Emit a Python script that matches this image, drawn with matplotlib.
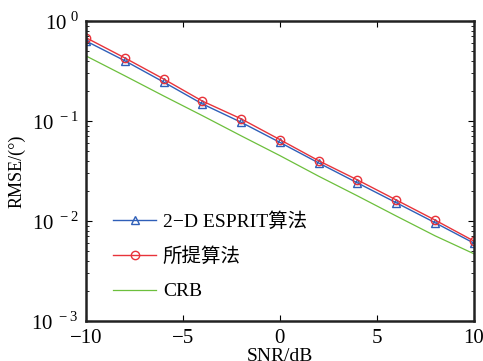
import matplotlib
matplotlib.use("Agg")
import matplotlib.pyplot as plt
import numpy as np

plt.rcParams['font.family'] = ['Liberation Serif', 'Noto Sans CJK SC']
plt.rcParams['mathtext.fontset'] = 'custom'
plt.rcParams['mathtext.rm'] = 'Liberation Serif'

snr = [-10, -8, -6, -4, -2, 0, 2, 4, 6, 8, 10]
esprit = [0.63, 0.40, 0.245, 0.148, 0.097, 0.061, 0.038, 0.024, 0.0152, 0.0096, 0.0060]
proposed = [0.68, 0.427, 0.263, 0.158, 0.105, 0.065, 0.040, 0.0257, 0.0162, 0.0102, 0.0063]
crb = [0.447, 0.283, 0.178, 0.113, 0.071, 0.045, 0.028, 0.0178, 0.0112, 0.0071, 0.0047]

fig = plt.figure(figsize=(4.83, 3.61), dpi=100)
ax = fig.add_axes([0.178, 0.111, 0.803, 0.831])
ax.semilogy(snr, esprit, color='#2f5fb8', lw=1, marker='^', ms=6, mfc='none', mew=1, label='2−D ESPRIT算法')
ax.semilogy(snr, proposed, color='#e8333a', lw=1, marker='o', ms=6, mfc='none', mew=1, label='所提算法')
ax.semilogy(snr, crb, color='#6cbf3c', lw=0.9, label='CRB')
ax.set_xlim(-10, 10)
ax.set_ylim(1e-3, 1)
ax.set_xticks([-10, -5, 0, 5, 10])
ax.set_xticklabels(['−10', '−5', '0', '5', '10'])
ax.set_yticks([1e-3, 1e-2, 1e-1, 1])
ax.set_yticklabels([r'$10^{\;-3}$', r'$10^{\;-2}$', r'$10^{\;-1}$', r'$10^{\;0}$'])
ax.tick_params(which='both', direction='in', top=True, right=True, labelsize=15)
ax.tick_params(axis='x', pad=6)
ax.tick_params(axis='y', pad=5)
ax.tick_params(which='major', length=4)
ax.tick_params(which='minor', length=2)
for s in ax.spines.values():
    s.set_linewidth(1.8)
    s.set_color('#222222')
ax.set_xlabel('SNR/dB', fontsize=14, labelpad=0)
ax.set_ylabel('RMSE/(°)', fontsize=13, labelpad=4)
ax.legend(loc='lower left', frameon=False, fontsize=14, handlelength=2.2, handletextpad=0.35,
          labelspacing=0.85, bbox_to_anchor=(0.025, 0.01))
fig.savefig('out.png', dpi=100)
